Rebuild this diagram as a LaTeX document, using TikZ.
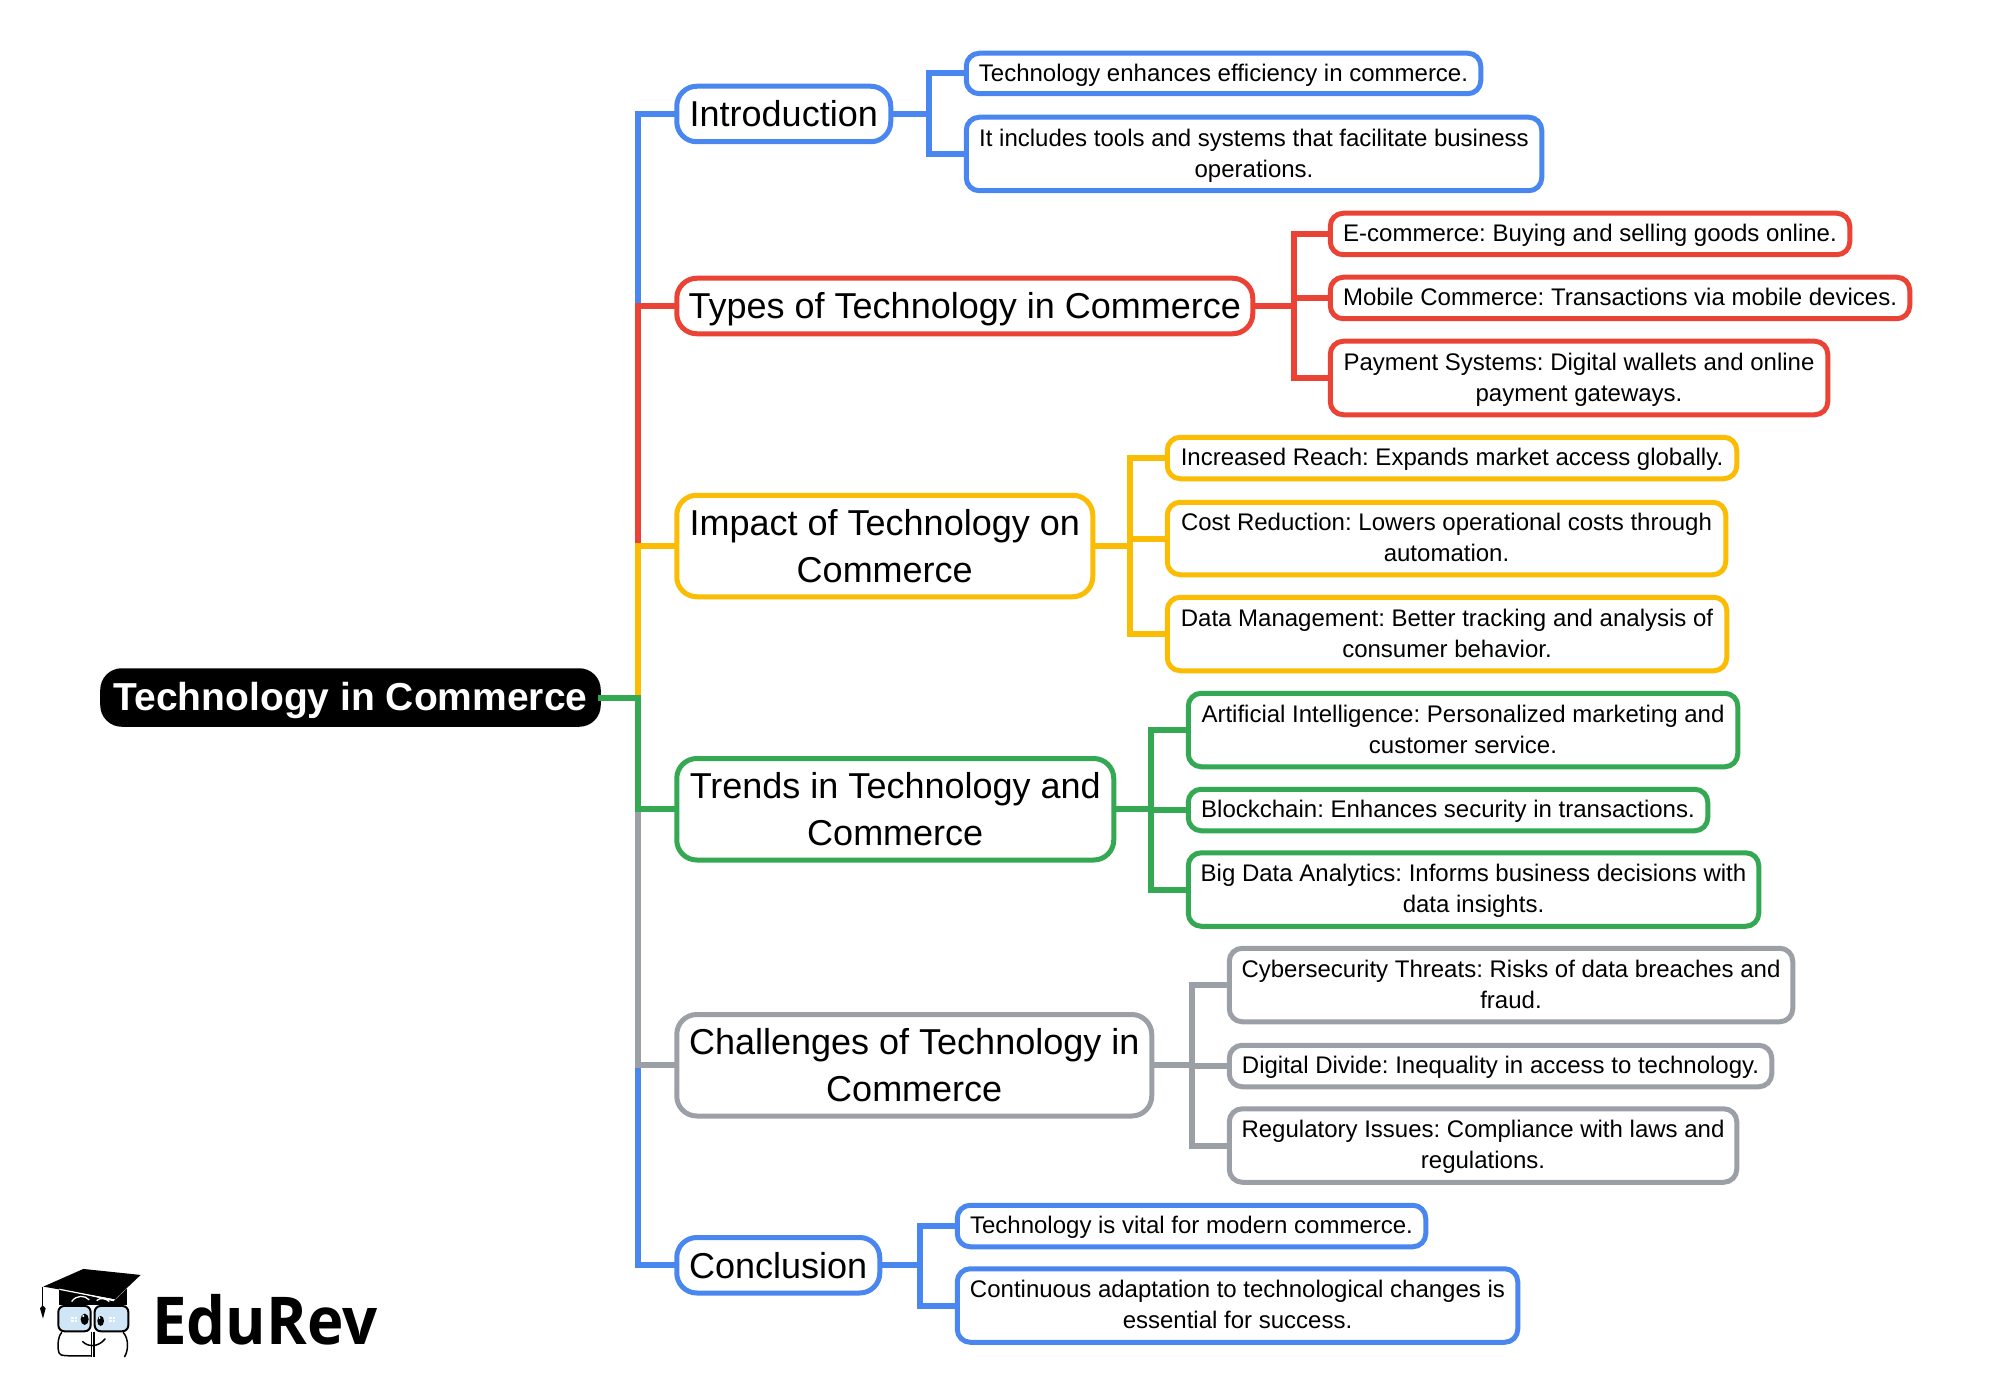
\documentclass[tikz,border=0pt]{standalone}
\usepackage{fontspec}
\setmainfont{Liberation Sans}
\newfontfamily\logofont{Open Sans}
\frenchspacing
\definecolor{gblue}{HTML}{4A86F0}
\definecolor{gred}{HTML}{EA4335}
\definecolor{gyellow}{HTML}{FBBC04}
\definecolor{ggreen}{HTML}{34A853}
\definecolor{ggrey}{HTML}{9AA0A6}
\definecolor{lens}{HTML}{D0E6F7}
\def\tdp{.255}
\newcommand{\tst}{\rule[-\tdp\baselineskip]{0pt}{\baselineskip}}
\newcommand{\nl}{\\\tst}
\newcommand{\nbox}[7]{%
  \pgfmathsetmacro\mynw{#5-#3-4.5}%
  \pgfmathsetmacro\mynh{#6-#4-4.5}%
  \node[#1,minimum width=\mynw bp,minimum height=\mynh bp] (#2) at ({(#3+#5)/2},{(#4+#6)/2}) {\tst #7};}
\tikzset{
  base/.style={draw,fill=white,line width=5bp,inner sep=0pt,outer sep=0pt,align=center,text=black},
  rootbox/.style={base,draw=black,fill=black,text=white,rounded corners=19bp,font=\def\tdp{.235}\fontsize{39bp}{50bp}\selectfont\bfseries},
  sect/.style={base,rounded corners=20bp,font=\def\tdp{.227}\fontsize{36bp}{46.7bp}\selectfont},
  leaf/.style={base,rounded corners=13bp,font=\fontsize{24bp}{31.3bp}\selectfont},
  conn/.style={line width=6bp,line join=miter,line cap=butt,draw=#1},
}
\begin{document}
\begin{tikzpicture}[x=1bp,y=-1bp]
\useasboundingbox (0,0) rectangle (2013,1396);
\fill[white] (0,0) rectangle (2013,1396);
% nodes
\nbox{rootbox}{root}{100.5}{668.5}{600.5}{726.5}{Technology in Commerce}
\nbox{sect,draw=gblue}{intro}{674.5}{84}{893}{144}{Introduction}
\nbox{sect,draw=gred}{types}{674.5}{276}{1255}{336}{Types of Technology in Commerce}
\nbox{sect,draw=gyellow}{impact}{674.5}{493}{1095}{599}{Impact of Technology on\nl Commerce}
\nbox{sect,draw=ggreen}{trends}{674.5}{756.25}{1116}{862.25}{Trends in Technology and\nl Commerce}
\nbox{sect,draw=ggrey}{chall}{674.5}{1012.25}{1154}{1118.25}{Challenges of Technology in\nl Commerce}
\nbox{sect,draw=gblue}{concl}{674.5}{1235.25}{882}{1295.25}{Conclusion}
\nbox{leaf,draw=gblue}{a1}{964}{51}{1483}{96}{Technology enhances efficiency in commerce.}
\nbox{leaf,draw=gblue}{a2}{964}{115}{1544}{193}{It includes tools and systems that facilitate business\nl operations.}
\nbox{leaf,draw=gred}{b1}{1328}{211}{1852}{257}{E-commerce: Buying and selling goods online.}
\nbox{leaf,draw=gred}{b2}{1328}{275}{1912}{321}{Mobile Commerce: Transactions via mobile devices.}
\nbox{leaf,draw=gred}{b3}{1328}{339}{1830}{417}{Payment Systems: Digital wallets and online\nl payment gateways.}
\nbox{leaf,draw=gyellow}{c1}{1165}{435}{1739}{481}{Increased Reach: Expands market access globally.}
\nbox{leaf,draw=gyellow}{c2}{1165}{500}{1728}{577}{Cost Reduction: Lowers operational costs through\nl automation.}
\nbox{leaf,draw=gyellow}{c3}{1165}{595}{1729}{673}{Data Management: Better tracking and analysis of\nl consumer behavior.}
\nbox{leaf,draw=ggreen}{d1}{1186}{691}{1740}{769}{Artificial Intelligence: Personalized marketing and\nl customer service.}
\nbox{leaf,draw=ggreen}{d2}{1186}{787}{1710}{833}{Blockchain: Enhances security in transactions.}
\nbox{leaf,draw=ggreen}{d3}{1186}{850.5}{1761}{928.5}{Big Data Analytics: Informs business decisions with\nl data insights.}
\nbox{leaf,draw=ggrey}{e1}{1227}{946}{1795}{1024}{Cybersecurity Threats: Risks of data breaches and\nl fraud.}
\nbox{leaf,draw=ggrey}{e2}{1227}{1043}{1774}{1089}{Digital Divide: Inequality in access to technology.}
\nbox{leaf,draw=ggrey}{e3}{1227}{1106.5}{1739}{1184.5}{Regulatory Issues: Compliance with laws and\nl regulations.}
\nbox{leaf,draw=gblue}{f1}{955}{1203}{1428}{1249}{Technology is vital for modern commerce.}
\nbox{leaf,draw=gblue}{f2}{955}{1266.5}{1520}{1344.5}{Continuous adaptation to technological changes is\nl essential for success.}
% trunk coordinates
\coordinate (tr) at (638,697.5);
\coordinate (ta) at (929,114);
\coordinate (tb) at (1294,306);
\coordinate (tc) at (1130,546);
\coordinate (td) at (1151,809.25);
\coordinate (te) at (1192,1065.25);
\coordinate (tf) at (920,1265.25);
% root connectors
\draw[conn=gblue] (root.east) -- (tr) |- (intro.west);
\draw[conn=gred] (root.east) -- (tr) |- (types.west);
\draw[conn=gyellow] (root.east) -- (tr) |- (impact.west);
\draw[conn=gblue] (root.east) -- (tr) |- (concl.west);
\draw[conn=ggrey] (root.east) -- (tr) |- (chall.west);
\draw[conn=ggreen] (root.east) -- (tr) |- (trends.west);
% section connectors
\draw[conn=gblue] (intro.east) -- (ta) |- (a1.west);
\draw[conn=gblue] (intro.east) -- (ta) |- (a2.west);
\draw[conn=gred] (types.east) -- (tb) |- (b1.west);
\draw[conn=gred] (types.east) -- (tb) |- (b2.west);
\draw[conn=gred] (types.east) -- (tb) |- (b3.west);
\draw[conn=gyellow] (impact.east) -- (tc) |- (c1.west);
\draw[conn=gyellow] (impact.east) -- (tc) |- (c2.west);
\draw[conn=gyellow] (impact.east) -- (tc) |- (c3.west);
\draw[conn=ggreen] (trends.east) -- (td) |- (d1.west);
\draw[conn=ggreen] (trends.east) -- (td) |- (d2.west);
\draw[conn=ggreen] (trends.east) -- (td) |- (d3.west);
\draw[conn=ggrey] (chall.east) -- (te) |- (e1.west);
\draw[conn=ggrey] (chall.east) -- (te) |- (e2.west);
\draw[conn=ggrey] (chall.east) -- (te) |- (e3.west);
\draw[conn=gblue] (concl.east) -- (tf) |- (f1.west);
\draw[conn=gblue] (concl.east) -- (tf) |- (f2.west);
% logo
\begin{scope}[x=0.33333bp,y=-0.33333bp,shift={(0,3690)}]
  \fill (178,176) -- (178,226) -- (380,226) -- (380,176) -- cycle;
  \fill[white] (178,176) -- (340,214) -- (380,176) -- cycle;
  \fill (130,170) -- (250,117) -- (422,135) -- (345,208) -- cycle;
  \draw[white,line width=1.2bp] (178,178) -- (342,210);
  \draw[white,line width=1.3bp] (215,215) .. controls (228,195) and (255,195) .. (268,210);
  \draw[white,line width=1.3bp] (290,212) .. controls (300,202) and (318,205) .. (328,215);
  \draw[line width=1.2bp] (128,170) -- (128,232);
  \fill (120,235) -- (128,226) -- (137,235) -- (129,266) -- cycle;
  \draw[fill=lens,line width=2bp,rounded corners=6bp] (175,228) rectangle (272,304);
  \draw[fill=lens,line width=2bp,rounded corners=6bp] (284,228) rectangle (385,304);
  \fill (254,268) ellipse [x radius=12,y radius=17];
  \fill (302,273) ellipse [x radius=10,y radius=15];
  \fill[white] (250,258) circle (3.5);
  \fill[white] (299,264) circle (3);
  \foreach \px in {214,224,328,338}{\fill[white] (\px,260) rectangle ++(8,6);\fill[white] (\px,269) rectangle ++(8,6);}
  \draw[line width=1.5bp,line cap=round] (185,308) .. controls (172,320) and (172,360) .. (178,370) .. controls (182,378) and (190,378) .. (272,378);
  \draw[line width=1.5bp] (274,305) -- (274,380);
  \draw[line width=2bp] (283,305) -- (283,382);
  \draw[line width=1.5bp,line cap=round] (370,308) .. controls (386,325) and (386,360) .. (374,380);
  \draw[line width=1.5bp,line cap=round] (248,335) .. controls (265,352) and (295,352) .. (315,327);
\end{scope}
\node[anchor=base west,inner sep=0pt,text=black,xscale=.935,font=\logofont\fontsize{66bp}{70bp}\selectfont\bfseries] (logo) at (152,1344) {EduRev};
\end{tikzpicture}
\end{document}
